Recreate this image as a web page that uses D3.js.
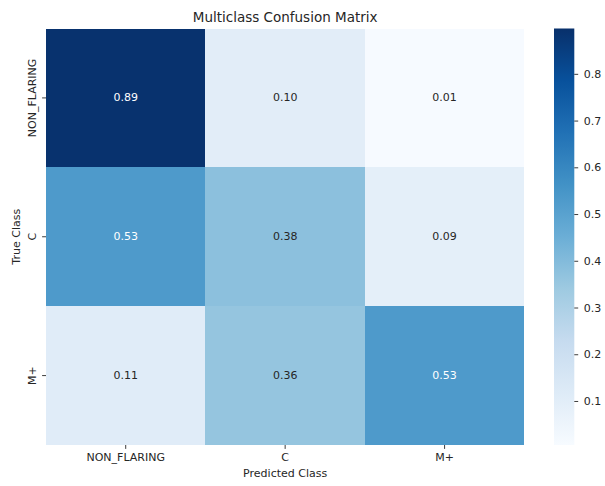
<!DOCTYPE html>
<html>
<head>
<meta charset="utf-8">
<script src="https://cdn.jsdelivr.net/npm/d3@7"></script>
<style>
  html, body { margin: 0; padding: 0; background: #fff; }
  svg text { font-family: "DejaVu Sans", sans-serif; }
</style>
</head>
<body>
<svg id="chart" width="605" height="486"></svg>
<script>
// Class labels (rows = true class, columns = predicted class)
const trueClasses = ["NON_FLARING", "C", "M+"];
const predClasses = ["NON_FLARING", "C", "M+"];

// Row-normalised confusion matrix values, one array per true class
const rowNonFlaring = [0.89, 0.10, 0.01];
const rowC = [0.53, 0.38, 0.09];
const rowMplus = [0.11, 0.36, 0.53];

// Colour bar tick values and colour scale limits
const colorbarTicks = [0.1, 0.2, 0.3, 0.4, 0.5, 0.6, 0.7, 0.8];
const colorLimits = [0.0058, 0.897];

// Blues colour map knots
const bluesKnots = ["#f7fbff", "#deebf7", "#c6dbef", "#9ecae1", "#6baed6",
                    "#4292c6", "#2171b5", "#08519c", "#08306b"];

const matrix = [rowNonFlaring, rowC, rowMplus];
const cells = [];
matrix.forEach((row, i) => row.forEach((v, j) => cells.push({ row: trueClasses[i], col: predClasses[j], value: v })));

const svg = d3.select("#chart");

const plot = { left: 46, right: 524.3, top: 28.5, bottom: 445 };
const cbar = { left: 554, right: 574.3 };

const x = d3.scaleBand().domain(predClasses).range([plot.left, plot.right]).padding(0);
const y = d3.scaleBand().domain(trueClasses).range([plot.top, plot.bottom]).padding(0);

const blues = d3.scaleLinear()
  .domain(bluesKnots.map((_, k) => k / (bluesKnots.length - 1)))
  .range(bluesKnots)
  .interpolate(d3.interpolateRgb)
  .clamp(true);
const norm = d3.scaleLinear().domain(colorLimits).range([0, 1]).clamp(true);
const color = v => blues(norm(v));

// Relative luminance, used to pick annotation colour
function luminance(c) {
  const rgb = d3.rgb(c);
  const lin = [rgb.r, rgb.g, rgb.b].map(u => {
    u /= 255;
    return u <= 0.03928 ? u / 12.92 : Math.pow((u + 0.055) / 1.055, 2.4);
  });
  return 0.2126 * lin[0] + 0.7152 * lin[1] + 0.0722 * lin[2];
}

// Heatmap cells
svg.append("g").selectAll("rect").data(cells).join("rect")
  .attr("x", d => x(d.col))
  .attr("y", d => y(d.row))
  .attr("width", x.bandwidth())
  .attr("height", y.bandwidth())
  .attr("fill", d => color(d.value))
  .attr("shape-rendering", "crispEdges");

// Annotations
svg.append("g").selectAll("text").data(cells).join("text")
  .attr("x", d => x(d.col) + x.bandwidth() / 2)
  .attr("y", d => y(d.row) + y.bandwidth() / 2)
  .attr("text-anchor", "middle")
  .attr("dominant-baseline", "central")
  .attr("font-size", "11px")
  .attr("fill", d => luminance(color(d.value)) > 0.408 ? "#262626" : "#ffffff")
  .text(d => d3.format(".2f")(d.value));

// Axes
const tickColor = "#262626";
const xAxis = svg.append("g")
  .attr("transform", `translate(0,${plot.bottom})`)
  .call(d3.axisBottom(x).tickSize(3.9).tickPadding(4));
xAxis.select(".domain").remove();
xAxis.selectAll("line").attr("stroke", tickColor).attr("stroke-width", 0.9);
xAxis.selectAll("text").attr("font-size", "11px").attr("fill", tickColor)
  .attr("font-family", "DejaVu Sans, sans-serif");

const yAxis = svg.append("g")
  .attr("transform", `translate(${plot.left},0)`)
  .call(d3.axisLeft(y).tickSize(3.9).tickPadding(4));
yAxis.select(".domain").remove();
yAxis.selectAll("line").attr("stroke", tickColor).attr("stroke-width", 0.9);
yAxis.selectAll("text")
  .attr("font-size", "11px").attr("fill", tickColor)
  .attr("font-family", "DejaVu Sans, sans-serif")
  .attr("x", null).attr("dy", null)
  .attr("text-anchor", "middle")
  .attr("transform", "translate(-10.5,0) rotate(-90)");

// Axis titles
svg.append("text")
  .attr("x", (plot.left + plot.right) / 2)
  .attr("y", 477)
  .attr("text-anchor", "middle")
  .attr("font-size", "11px")
  .attr("fill", "#262626")
  .text("Predicted Class");

svg.append("text")
  .attr("transform", `translate(19.5,${(plot.top + plot.bottom) / 2}) rotate(-90)`)
  .attr("text-anchor", "middle")
  .attr("font-size", "11px")
  .attr("fill", "#262626")
  .text("True Class");

svg.append("text")
  .attr("x", (plot.left + plot.right) / 2)
  .attr("y", 22)
  .attr("text-anchor", "middle")
  .attr("font-size", "13.5px")
  .attr("fill", "#262626")
  .text("Multiclass Confusion Matrix");

// Colour bar
const defs = svg.append("defs");
const grad = defs.append("linearGradient")
  .attr("id", "cbarGrad")
  .attr("x1", 0).attr("y1", 1).attr("x2", 0).attr("y2", 0);
grad.selectAll("stop").data(bluesKnots).join("stop")
  .attr("offset", (_, k) => k / (bluesKnots.length - 1))
  .attr("stop-color", d => d);

svg.append("rect")
  .attr("x", cbar.left)
  .attr("y", plot.top)
  .attr("width", cbar.right - cbar.left)
  .attr("height", plot.bottom - plot.top)
  .attr("fill", "url(#cbarGrad)");

const cScale = d3.scaleLinear().domain(colorLimits).range([plot.bottom, plot.top]);
const cAxis = svg.append("g")
  .attr("transform", `translate(${cbar.right},0)`)
  .call(d3.axisRight(cScale).tickValues(colorbarTicks).tickFormat(d3.format(".1f")).tickSize(3.9).tickPadding(5.5));
cAxis.select(".domain").remove();
cAxis.selectAll("line").attr("stroke", tickColor).attr("stroke-width", 0.9);
cAxis.selectAll("text").attr("font-size", "11px").attr("fill", tickColor)
  .attr("font-family", "DejaVu Sans, sans-serif");
</script>
</body>
</html>
